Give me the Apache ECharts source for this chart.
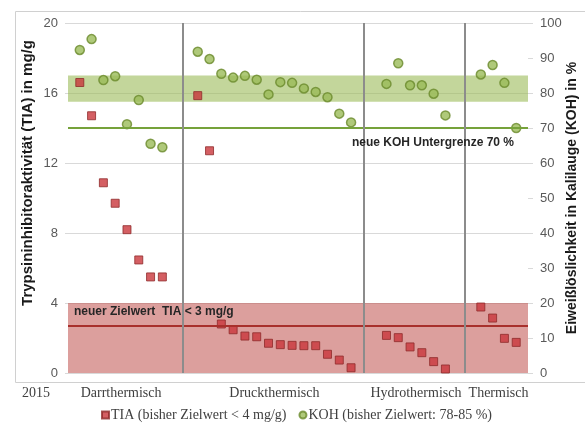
<!DOCTYPE html>
<html>
<head>
<meta charset="utf-8">
<script src="https://cdn.jsdelivr.net/npm/echarts@6/dist/echarts.min.js"></script>
<style>
  html, body { margin: 0; padding: 0; background: #fff; }
  #chart { width: 585px; height: 423px; }
</style>
</head>
<body>
<div id="chart"></div>
<script>
// Gruppen (Verfahren) und Messwerte je Probe
const groups = ['Darrthermisch', 'Druckthermisch', 'Hydrothermisch', 'Thermisch'];

// TIA in mg/g (linke Achse)
const tiaDarr = [16.6, 14.7, 10.87, 9.7, 8.19, 6.46, 5.49, 5.49];
const tiaDruck = [15.85, 12.7, 2.8, 2.47, 2.11, 2.07, 1.7, 1.62, 1.58, 1.56, 1.56, 1.07, 0.74, 0.3];
const tiaHydro = [2.15, 2.02, 1.49, 1.16, 0.65, 0.23];
const tiaTherm = [3.77, 3.14, 1.98, 1.75];

// KOH-Löslichkeit in % (rechte Achse)
const kohDarr = [92.3, 95.4, 83.7, 84.8, 71.1, 78.0, 65.5, 64.5];
const kohDruck = [91.8, 89.7, 85.5, 84.4, 84.9, 83.8, 79.6, 83.1, 82.9, 81.3, 80.3, 78.8, 74.1, 71.6];
const kohHydro = [82.6, 88.5, 82.2, 82.2, 79.8, 73.6];
const kohTherm = [85.3, 88.0, 82.9, 70.0];

// Achsen / Zielbereiche
const leftTicks = [0, 20, 4];     // min, max, interval
const rightTicks = [0, 100, 10];
const tiaBand = [0, 4];
const tiaTarget = 2.7;
const kohBand = [77.5, 85];
const kohLimit = 70;
const dividerPos = [9.7, 25.1, 33.6];  // Trennlinien zwischen den Gruppen
const yearLabel = '2015';

const tiaGroups = [tiaDarr, tiaDruck, tiaHydro, tiaTherm];
const kohGroups = [kohDarr, kohDruck, kohHydro, kohTherm];

// Kategorien: eine Leerstelle am Rand, zwei Leerstellen zwischen den Gruppen
const slots = [''];
const tiaData = [null];
const kohData = [null];
const groupCenter = [];
tiaGroups.forEach((vals, g) => {
  if (g > 0) {
    slots.push('', '');
    tiaData.push(null, null);
    kohData.push(null, null);
  }
  const start = slots.length;
  vals.forEach((v, i) => {
    slots.push(groups[g] + ' ' + (i + 1));
    tiaData.push(v);
    kohData.push(kohGroups[g][i]);
  });
  groupCenter.push(start + vals.length / 2 - 1);
});
slots.push('');
tiaData.push(null);
kohData.push(null);

const labelSlots = [];
for (let i = 0; i < slots.length - 1; i++) {
  const g = groupCenter.indexOf(i);
  labelSlots.push(g >= 0 ? groups[g] : '');
}

const sans = 'Liberation Sans, Arial, sans-serif';
const serif = 'Liberation Serif, Times New Roman, serif';

const myChart = echarts.init(document.getElementById('chart'));

const option = {
  animation: false,
  title: {
    text: yearLabel,
    left: 22,
    top: 386,
    padding: 0,
    textStyle: { fontFamily: serif, fontSize: 14, fontWeight: 'normal', color: '#404040' }
  },
  graphic: [{
    type: 'rect',
    silent: true,
    shape: { x: 15.5, y: 11.5, width: 600, height: 371 },
    style: { fill: 'none', stroke: '#d0d0d0', lineWidth: 1 }
  }],
  legend: {
    left: 96,
    top: 403,
    itemWidth: 7,
    itemHeight: 7,
    itemGap: 12,
    data: [
      { name: 'TIA (bisher Zielwert < 4 mg/g)', icon: 'rect' },
      { name: 'KOH (bisher Zielwert: 78-85 %)', icon: 'circle' }
    ],
    textStyle: { fontFamily: serif, fontSize: 14, color: '#404040', padding: [0, 0, 0, -3] }
  },
  grid: { left: 68, right: 57, top: 23, bottom: 50, outerBoundsMode: 'none' },
  xAxis: [
    {
      type: 'category',
      data: slots,
      boundaryGap: false,
      axisLine: { show: false },
      axisTick: { show: false },
      axisLabel: { show: false },
      splitLine: { show: false }
    },
    {
      type: 'category',
      data: labelSlots,
      boundaryGap: true,
      position: 'bottom',
      axisLine: { show: false },
      axisTick: { show: false },
      axisLabel: {
        interval: 0,
        margin: 13,
        fontFamily: serif,
        fontSize: 14,
        color: '#404040'
      },
      splitLine: { show: false }
    },
    {
      type: 'value',
      min: 0,
      max: slots.length - 1,
      show: false
    }
  ],
  yAxis: [
    {
      type: 'value',
      min: leftTicks[0],
      max: leftTicks[1],
      interval: leftTicks[2],
      name: 'Trypsininhibitoraktivität (TIA) in mg/g',
      nameLocation: 'middle',
      nameMoveOverlap: false,
      nameGap: 33,
      nameTextStyle: {
        fontFamily: sans, fontSize: 15, fontWeight: 'bold', color: '#1a1a1a',
        padding: [0, 0, 0, 50]
      },
      axisLine: { show: false },
      axisTick: { show: true, length: 3, lineStyle: { color: '#d9d9d9' } },
      axisLabel: { margin: 10, fontFamily: sans, fontSize: 13, color: '#595959' },
      splitLine: { lineStyle: { color: '#d9d9d9', width: 1 } }
    },
    {
      type: 'value',
      min: rightTicks[0],
      max: rightTicks[1],
      interval: rightTicks[2],
      position: 'right',
      name: 'Eiweißlöslichkeit in Kalilauge (KOH) in %',
      nameLocation: 'middle',
      nameMoveOverlap: false,
      nameGap: 37,
      nameTextStyle: { fontFamily: sans, fontSize: 14, fontWeight: 'bold', color: '#1a1a1a' },
      axisLine: { show: false },
      axisTick: { show: true, length: 5, lineStyle: { color: '#d9d9d9' } },
      axisLabel: { margin: 12, fontFamily: sans, fontSize: 13, color: '#595959' },
      splitLine: { show: false }
    }
  ],
  series: [
    {
      name: 'TIA (bisher Zielwert < 4 mg/g)',
      type: 'scatter',
      xAxisIndex: 0,
      yAxisIndex: 0,
      z: 2,
      symbol: 'rect',
      symbolSize: 8,
      itemStyle: { color: '#c9373c', borderColor: '#8e2b2b', borderWidth: 1 },
      data: tiaData
    },
    {
      // Zielbereiche und Grenzlinien
      type: 'line',
      xAxisIndex: 0,
      yAxisIndex: 0,
      z: 3,
      data: [],
      markArea: {
        silent: true,
        itemStyle: { color: 'rgba(192, 80, 77, 0.55)' },
        data: [[{ yAxis: tiaBand[0] }, { yAxis: tiaBand[1] }]]
      },
      markLine: {
        silent: true,
        symbol: 'none',
        lineStyle: { color: '#a8302c', width: 2, type: 'solid' },
        label: {
          position: 'insideStartTop',
          distance: [6, 8],
          formatter: 'neuer Zielwert  TIA < 3 mg/g',
          fontFamily: sans,
          fontSize: 12,
          fontWeight: 'bold',
          color: '#262626'
        },
        data: [{ yAxis: tiaTarget }]
      }
    },
    {
      type: 'line',
      xAxisIndex: 0,
      yAxisIndex: 1,
      z: 3,
      data: [],
      markArea: {
        silent: true,
        itemStyle: { color: 'rgba(155, 187, 89, 0.6)' },
        data: [[{ yAxis: kohBand[0] }, { yAxis: kohBand[1] }]]
      },
      markLine: {
        silent: true,
        symbol: 'none',
        lineStyle: { color: '#76a23a', width: 2, type: 'solid' },
        label: {
          position: 'insideEndBottom',
          distance: [14, 9],
          formatter: 'neue KOH Untergrenze 70 %',
          fontFamily: sans,
          fontSize: 12,
          fontWeight: 'bold',
          color: '#262626'
        },
        data: [{ yAxis: kohLimit }]
      }
    },
    {
      type: 'line',
      xAxisIndex: 2,
      yAxisIndex: 0,
      z: 3,
      data: [],
      markLine: {
        silent: true,
        symbol: 'none',
        label: { show: false },
        lineStyle: { color: '#8c8c8c', width: 2, type: 'solid' },
        data: dividerPos.map(v => ({ xAxis: v }))
      }
    },
    {
      name: 'KOH (bisher Zielwert: 78-85 %)',
      type: 'scatter',
      xAxisIndex: 0,
      yAxisIndex: 1,
      z: 4,
      symbol: 'circle',
      symbolSize: 9,
      itemStyle: { color: '#9bbb59', borderColor: '#6a8a2c', borderWidth: 1.5 },
      data: kohData
    }
  ]
};

myChart.setOption(option);
</script>
</body>
</html>
